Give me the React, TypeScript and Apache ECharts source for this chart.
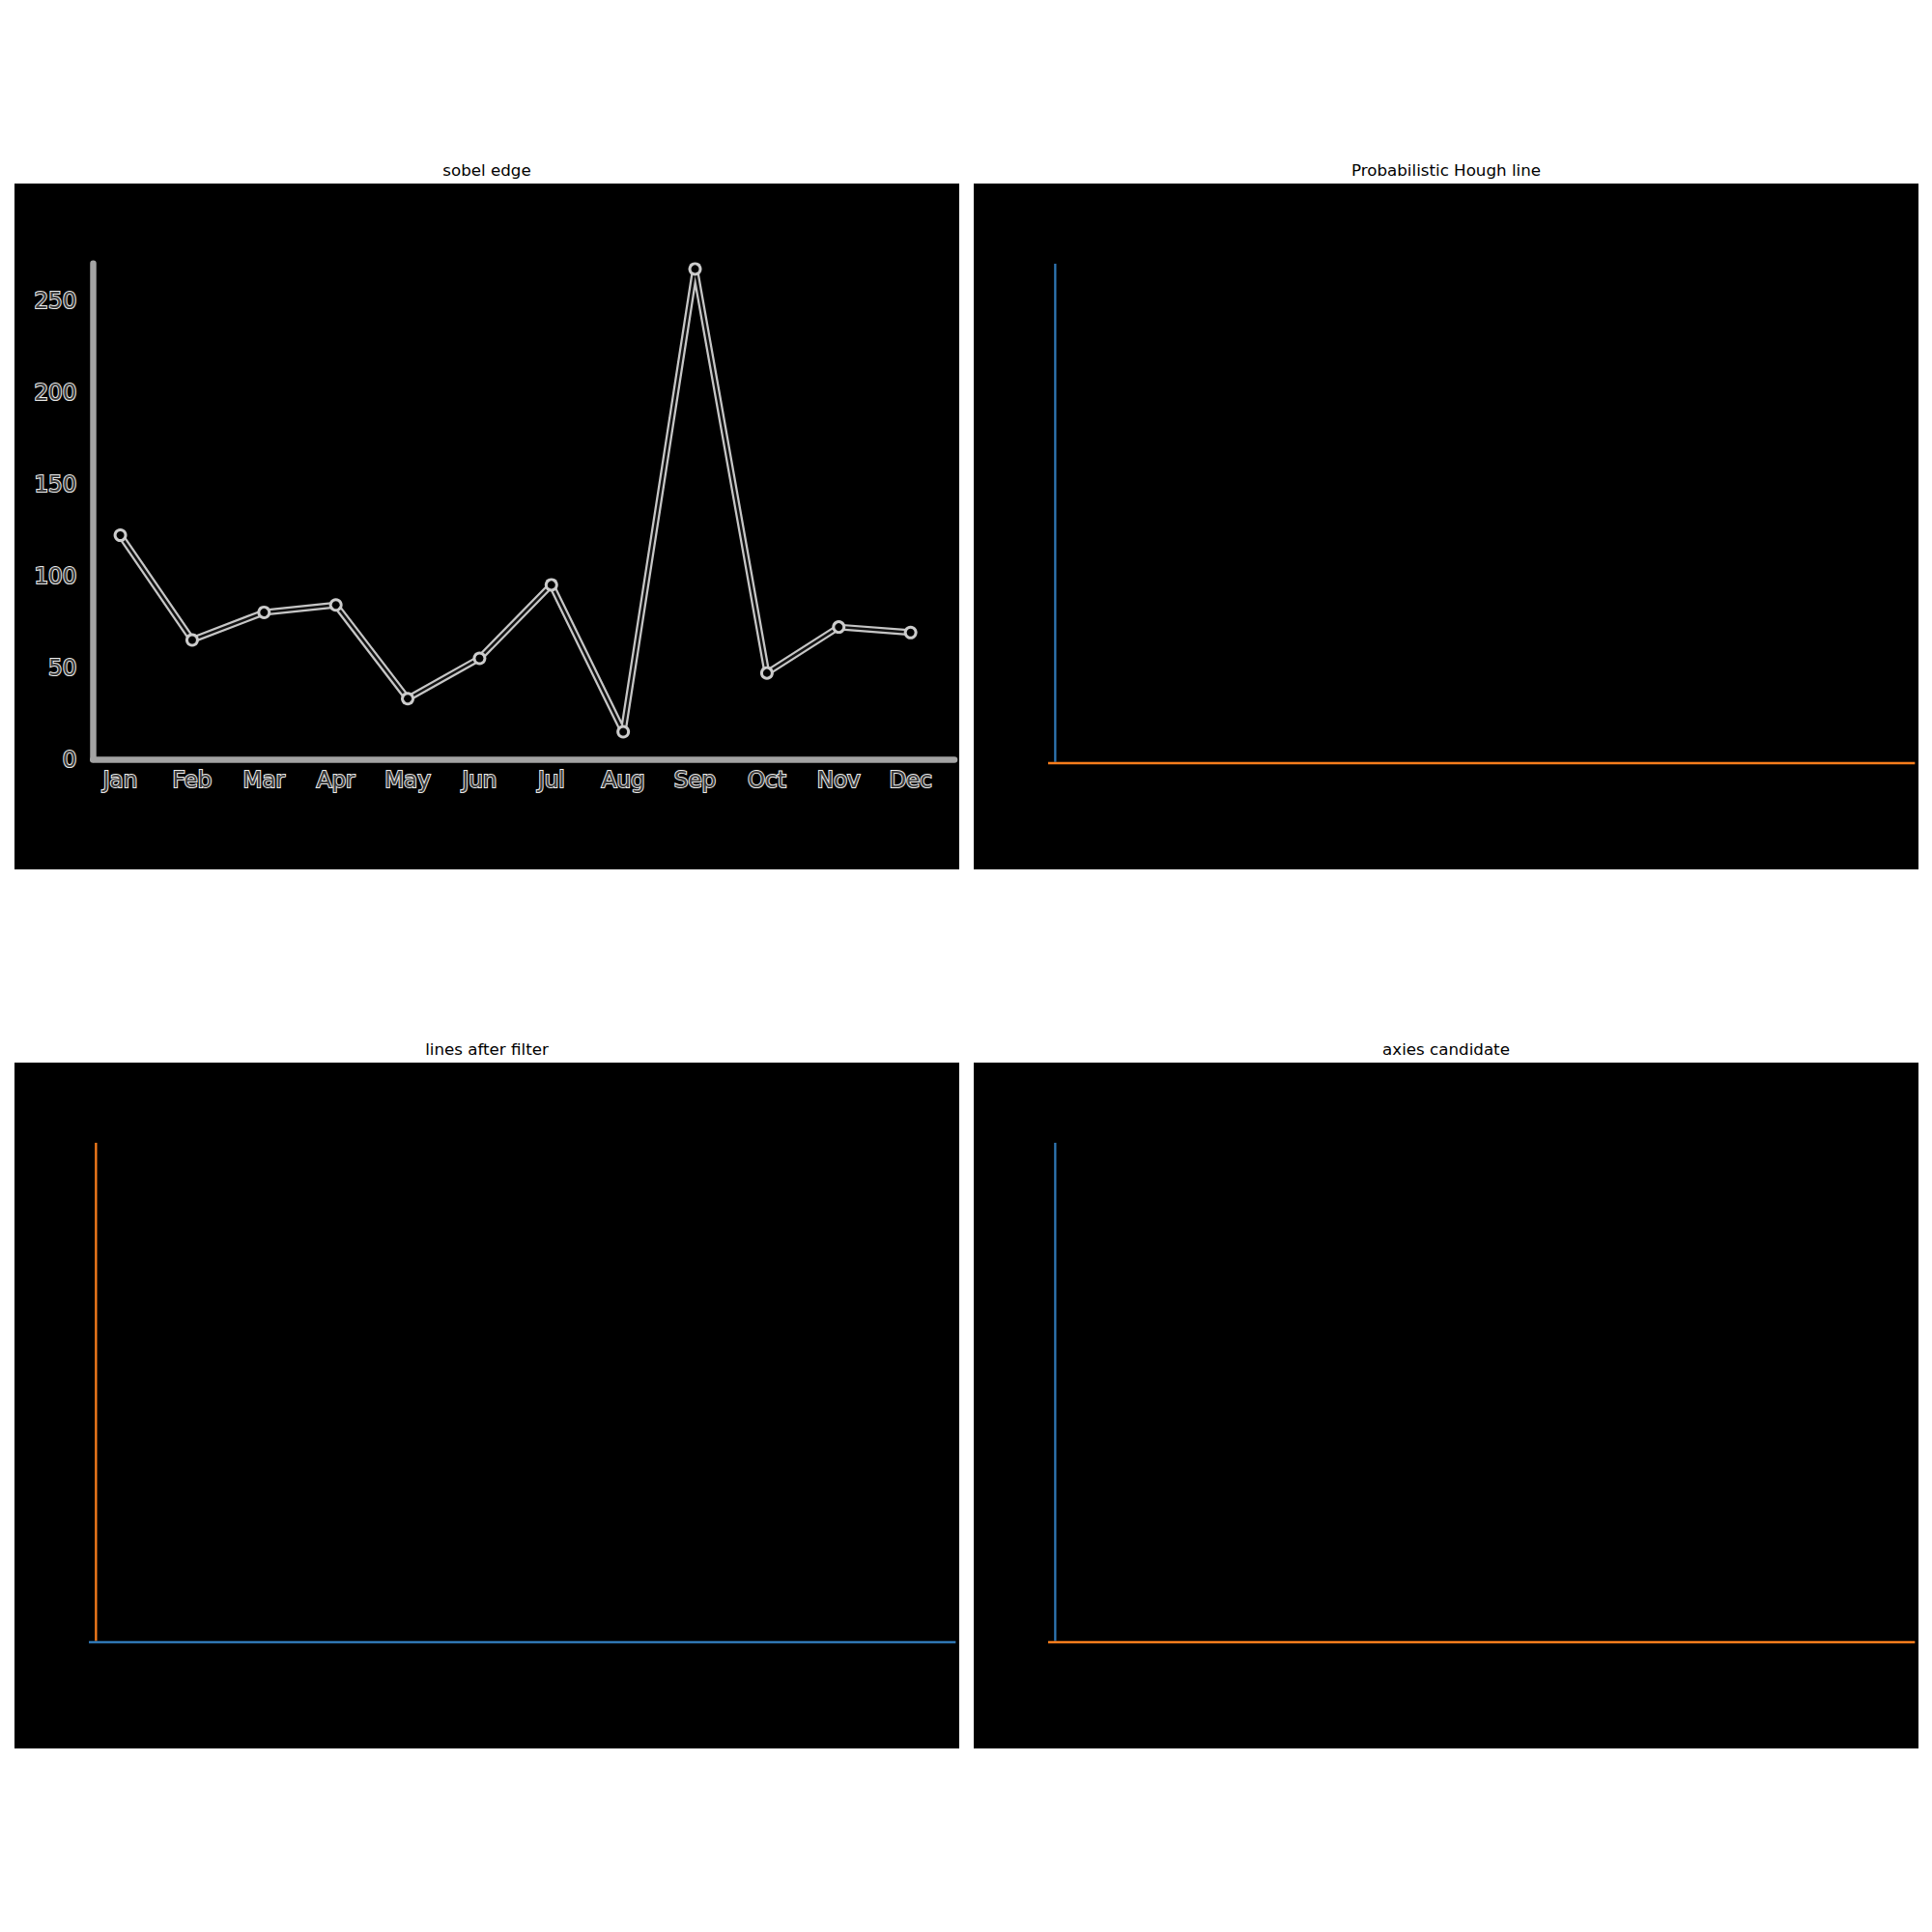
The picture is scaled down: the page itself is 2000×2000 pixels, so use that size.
import React, { useEffect, useRef } from "react";
import * as echarts from "echarts";

// ---- data ----
const months = ["Jan", "Feb", "Mar", "Apr", "May", "Jun", "Jul", "Aug", "Sep", "Oct", "Nov", "Dec"];
const sales = [122, 65, 80, 84, 33, 55, 95, 15, 267, 47, 72, 69];
const yTicks = [0, 50, 100, 150, 200, 250];
const monthTicks = [0, 1, 2, 3, 4, 5, 6, 7, 8, 9, 10, 11];
const panelTitles = ["sobel edge", "Probabilistic Hough line", "lines after filter", "axies candidate"];
// detected lines in image pixel coordinates (x, y)
const verticalLine = [[69, 68], [69, 490]];
const horizontalLine = [[63, 491], [797, 491]];
const IMG_W = 800;
const IMG_H = 581;

const BLUE = "#2f76b3";
const ORANGE = "#f87d1c";

export default function App() {
  const ref = useRef<HTMLDivElement>(null);
  useEffect(() => {
    if (!ref.current) return;
    const chart = echarts.init(ref.current, undefined, { renderer: "svg" });
    const W = 978;
    const H = 710;
    const panels = [
      { left: 15, top: 190 },
      { left: 1008, top: 190 },
      { left: 15, top: 1100 },
      { left: 1008, top: 1100 },
    ];
    const grids: any[] = panels.map((p) => ({
      left: p.left,
      top: p.top,
      width: W,
      height: H,
      show: true,
      backgroundColor: "#000",
      borderWidth: 0,
    }));
    // inner chart of the sobel image
    grids.push({ left: 96.3, top: 272.7, width: 988 - 96.3, height: 786 - 272.7, show: false });

    const labelStyle = {
      fontFamily: "DejaVu Sans",
      fontSize: 23,
      color: "#3a3a3a",
      textBorderColor: "#ececec",
      textBorderWidth: 2,
    };

    const xAxes: any[] = panels.map((_, i) => ({
      gridIndex: i,
      type: "value",
      min: 0,
      max: IMG_W,
      show: false,
    }));
    const yAxes: any[] = panels.map((_, i) => ({
      gridIndex: i,
      type: "value",
      min: 0,
      max: IMG_H,
      inverse: true,
      show: false,
    }));
    xAxes.push({
      gridIndex: 4,
      type: "value",
      min: -0.38,
      max: 11.61,
      axisLine: { show: true, onZero: false, lineStyle: { color: "#a3a3a3", width: 6.5 } },
      axisTick: { show: false },
      splitLine: { show: false },
      axisLabel: {
        ...labelStyle,
        margin: 9,
        customValues: monthTicks,
        formatter: (v: number) => months[Math.round(v)] ?? "",
      },
    });
    yAxes.push({
      gridIndex: 4,
      type: "value",
      min: 0,
      max: 270,
      axisLine: { show: true, onZero: false, lineStyle: { color: "#a3a3a3", width: 6.5 } },
      axisTick: { show: false },
      splitLine: { show: false },
      axisLabel: {
        ...labelStyle,
        margin: 17,
        customValues: yTicks,
        formatter: (v: number) => String(v),
      },
    });

    const lineColors = [
      null,
      { v: BLUE, h: ORANGE },
      { v: ORANGE, h: BLUE },
      { v: BLUE, h: ORANGE },
    ];
    const series: any[] = [];
    lineColors.forEach((c, i) => {
      if (!c) return;
      series.push({
        type: "line",
        xAxisIndex: i,
        yAxisIndex: i,
        data: verticalLine,
        symbol: "none",
        silent: true,
        lineStyle: { color: c.v, width: 2.3 },
      });
      series.push({
        type: "line",
        xAxisIndex: i,
        yAxisIndex: i,
        data: horizontalLine,
        symbol: "none",
        silent: true,
        lineStyle: { color: c.h, width: 2.6 },
      });
    });
    const salesData = sales.map((v, i) => [i, v]);
    series.push({
      type: "line",
      xAxisIndex: 4,
      yAxisIndex: 4,
      data: salesData,
      symbol: "circle",
      symbolSize: 14,
      silent: true,
      itemStyle: { color: "#cccccc" },
      lineStyle: { color: "#c6c6c6", width: 7 },
    });
    series.push({
      type: "line",
      xAxisIndex: 4,
      yAxisIndex: 4,
      data: salesData,
      symbol: "circle",
      symbolSize: 8,
      silent: true,
      itemStyle: { color: "#000" },
      lineStyle: { color: "#111", width: 2.5 },
    });

    const graphic = panels.map((p, i) => ({
      type: "text",
      x: p.left + W / 2,
      y: p.top - 14,
      style: {
        text: panelTitles[i],
        fontFamily: "DejaVu Sans",
        fontSize: 16.7,
        fill: "#000",
        align: "center",
        verticalAlign: "middle",
      },
    }));

    chart.setOption({
      animation: false,
      backgroundColor: "#fff",
      grid: grids,
      xAxis: xAxes,
      yAxis: yAxes,
      series,
      graphic,
    });
    return () => chart.dispose();
  }, []);
  return (
    <div
      ref={ref}
      style={{ position: "absolute", left: 0, top: 0, width: 2000, height: 2000 }}
    />
  );
}
